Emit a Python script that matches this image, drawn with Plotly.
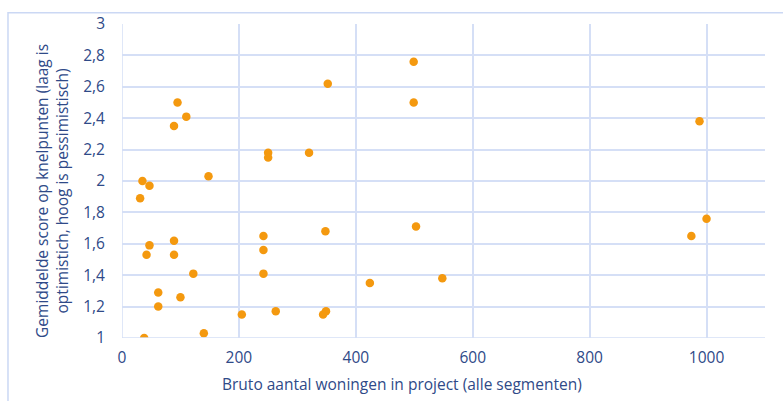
import plotly.graph_objects as go

# Gross number of dwellings per project (all segments)
woningen = [352, 95, 110, 89, 250, 250, 320, 148, 35, 47, 31,
            499, 499, 988,
            348, 242, 242, 242, 89, 47, 42, 89, 122, 62, 100, 62,
            263, 205, 349, 344, 140, 38, 424,
            503, 548, 974, 1000]

# Average score on bottlenecks (low = optimistic, high = pessimistic)
score = [2.62, 2.50, 2.41, 2.35, 2.18, 2.15, 2.18, 2.03, 2.00, 1.97, 1.89,
         2.76, 2.50, 2.38,
         1.68, 1.65, 1.56, 1.41, 1.62, 1.59, 1.53, 1.53, 1.41, 1.29, 1.26, 1.20,
         1.17, 1.15, 1.17, 1.15, 1.03, 1.00, 1.35,
         1.71, 1.38, 1.65, 1.76]

x_ticks = [0, 200, 400, 600, 800, 1000]
y_ticks = [1, 1.2, 1.4, 1.6, 1.8, 2, 2.2, 2.4, 2.6, 2.8, 3]
y_labels = ["1", "1,2", "1,4", "1,6", "1,8", "2", "2,2", "2,4", "2,6", "2,8", "3"]

TEXT = "#2F4A88"
GRID = "#D5DFF6"
FONT = "Open Sans"

fig = go.Figure(
    go.Scatter(
        x=woningen, y=score, mode="markers",
        marker=dict(color="#F4990F", size=8.5, line=dict(width=0)),
        hoverinfo="x+y",
    )
)

fig.update_xaxes(
    range=[0, 1100], tickvals=x_ticks, ticktext=[str(v) for v in x_ticks],
    showgrid=True, gridcolor=GRID, gridwidth=1.5, zeroline=False,
    showline=False, ticks="", ticklabelstandoff=8,
    tickfont=dict(family=FONT, size=15.5, color=TEXT),
)
fig.update_yaxes(
    range=[1, 3], tickvals=y_ticks, ticktext=y_labels,
    showgrid=True, gridcolor=GRID, gridwidth=1.5, zeroline=False,
    showline=False, ticks="", ticklabelstandoff=16,
    tickfont=dict(family=FONT, size=15.5, color=TEXT),
)

# Left axis line and bottom axis line in gridline colour
fig.add_shape(type="line", xref="x", yref="paper", x0=0, x1=0, y0=0, y1=1,
              line=dict(color=GRID, width=1.5))
fig.add_shape(type="line", xref="paper", yref="y", x0=0, x1=1, y0=1, y1=1,
              line=dict(color=GRID, width=1.5))

# Chart-area border
fig.add_shape(type="rect", xref="paper", yref="paper",
              x0=-0.1773, x1=1.2, y0=-0.4, y1=1.036,
              line=dict(color="#CBD8F4", width=1.5), layer="below")

fig.add_annotation(
    text="Bruto aantal woningen in project (alle segmenten)",
    xref="paper", yref="paper", x=(402 - 122) / 643, y=-(384 - 338) / 316,
    xanchor="center", yanchor="middle", showarrow=False,
    font=dict(family=FONT, size=15.5, color=TEXT),
)
fig.add_annotation(
    text="Gemiddelde score op knelpunten (laag is<br>optimistich, hoog is pessimistisch)",
    xref="paper", yref="paper", x=-(122 - 52) / 643, y=1 - (190 - 22) / 316,
    xanchor="center", yanchor="middle", showarrow=False, textangle=-90,
    font=dict(family=FONT, size=15.5, color=TEXT),
)

fig.update_layout(
    width=783, height=401,
    margin=dict(l=122, r=18, t=22, b=63),
    paper_bgcolor="white", plot_bgcolor="white",
    showlegend=False,
)

fig.write_html("out.html")
